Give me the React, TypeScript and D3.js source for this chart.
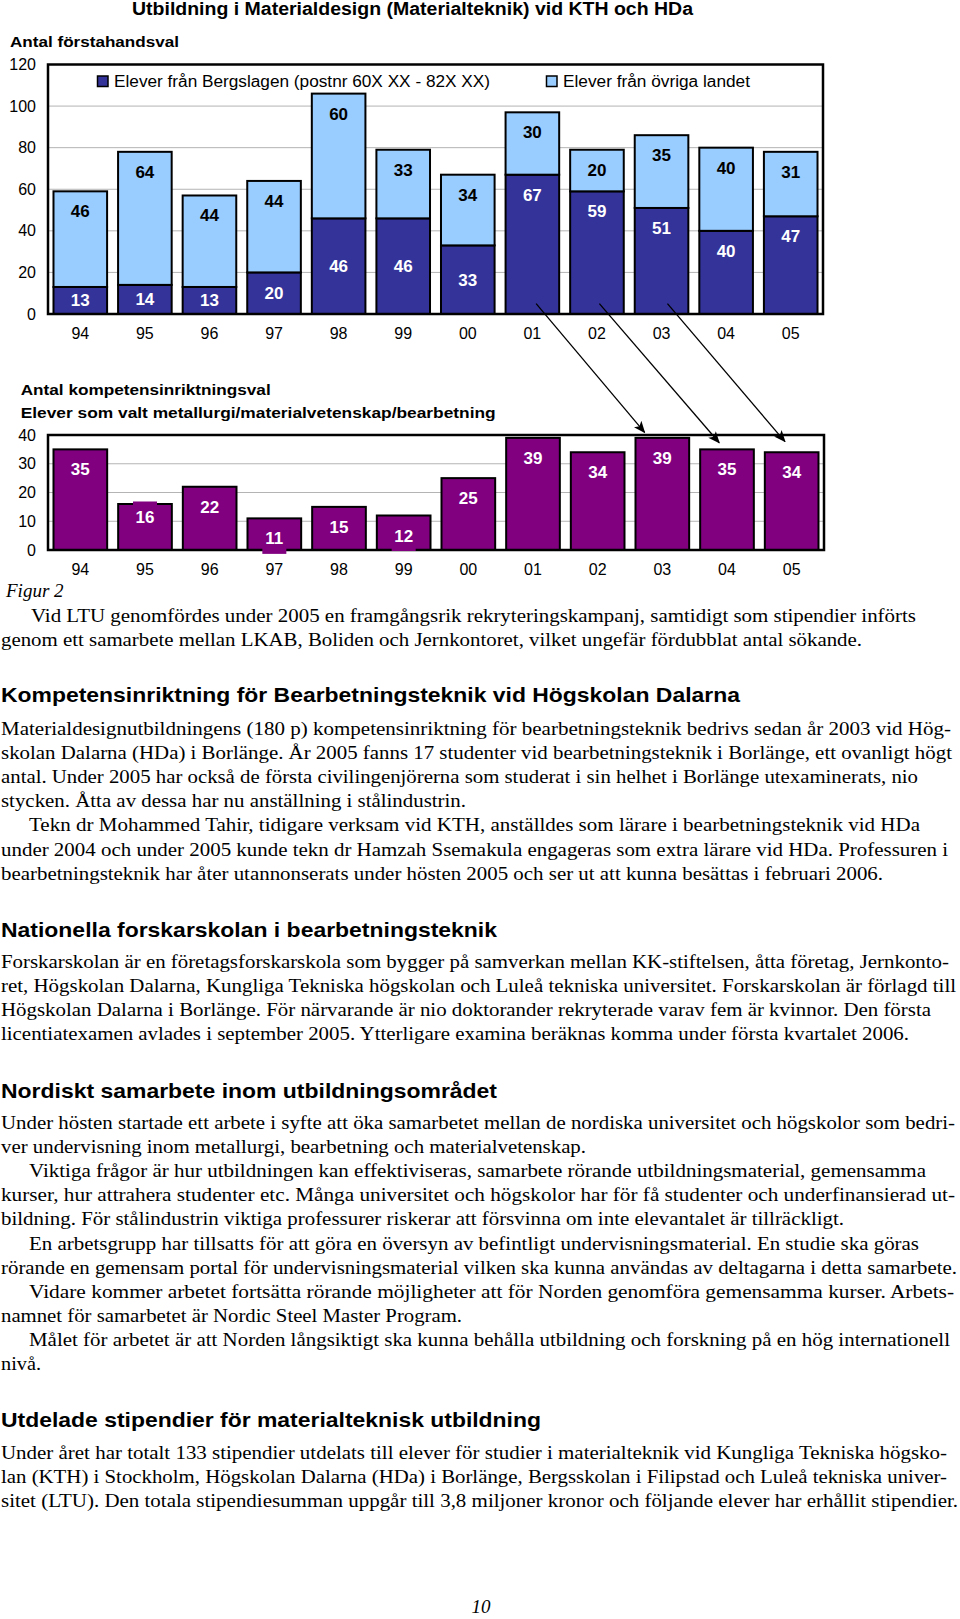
import React from "react";
import * as d3 from "d3";

// ---------- chart data ----------
const years = ["94", "95", "96", "97", "98", "99", "00", "01", "02", "03", "04", "05"];
const bergslagen = [13, 14, 13, 20, 46, 46, 33, 67, 59, 51, 40, 47];
const ovriga = [46, 64, 44, 44, 60, 33, 34, 30, 20, 35, 40, 31];
const kompetens = [35, 16, 22, 11, 15, 12, 25, 39, 34, 39, 35, 34];
const topTicks = [0, 20, 40, 60, 80, 100, 120];
const bottomTicks = [0, 10, 20, 30, 40];
const arrowLinks = [
  { from: "01", to: "03" },
  { from: "02", to: "04" },
  { from: "03", to: "05" },
];

// ---------- text ----------
const chartTitle = "Utbildning i Materialdesign (Materialteknik) vid KTH och HDa";
const topAxisTitle = "Antal förstahandsval";
const legendDark = "Elever från Bergslagen (postnr 60X XX - 82X XX)";
const legendLight = "Elever från övriga landet";
const bottomTitle1 = "Antal kompetensinriktningsval";
const bottomTitle2 = "Elever som valt metallurgi/materialvetenskap/bearbetning";

type Line = { t: string; x: number; end: number };
type Block = { kind: "h" | "p"; y: number; lines: Line[] };

const blocks: Block[] = [
  {
    kind: "p",
    y: 622,
    lines: [
      { t: "Vid LTU genomfördes under 2005 en framgångsrik rekryteringskampanj, samtidigt som stipendier införts", x: 31, end: 916 },
      { t: "genom ett samarbete mellan LKAB, Boliden och Jernkontoret, vilket ungefär fördubblat antal sökande.", x: 1, end: 862 },
    ],
  },
  { kind: "h", y: 702, lines: [{ t: "Kompetensinriktning för Bearbetningsteknik vid Högskolan Dalarna", x: 1, end: 740 }] },
  {
    kind: "p",
    y: 735,
    lines: [
      { t: "Materialdesignutbildningens (180 p) kompetensinriktning för bearbetningsteknik bedrivs sedan år 2003 vid Hög-", x: 1, end: 951 },
      { t: "skolan Dalarna (HDa) i Borlänge. År 2005 fanns 17 studenter vid bearbetningsteknik i Borlänge, ett ovanligt högt", x: 1, end: 952 },
      { t: "antal. Under 2005 har också de första civilingenjörerna som studerat i sin helhet i Borlänge utexaminerats, nio", x: 1, end: 918 },
      { t: "stycken. Åtta av dessa har nu anställning i stålindustrin.", x: 1, end: 466 },
      { t: "Tekn dr Mohammed Tahir, tidigare verksam vid KTH, anställdes som lärare i bearbetningsteknik vid HDa", x: 29, end: 920 },
      { t: "under 2004 och under 2005 kunde tekn dr Hamzah Ssemakula engageras som extra lärare vid HDa. Professuren i", x: 1, end: 948 },
      { t: "bearbetningsteknik har åter utannonserats under hösten 2005 och ser ut att kunna besättas i februari 2006.", x: 1, end: 883 },
    ],
  },
  { kind: "h", y: 936.5, lines: [{ t: "Nationella forskarskolan i bearbetningsteknik", x: 1, end: 497 }] },
  {
    kind: "p",
    y: 968,
    lines: [
      { t: "Forskarskolan är en företagsforskarskola som bygger på samverkan mellan KK-stiftelsen, åtta företag, Jernkonto-", x: 1, end: 949 },
      { t: "ret, Högskolan Dalarna, Kungliga Tekniska högskolan och Luleå tekniska universitet. Forskarskolan är förlagd till", x: 1, end: 956 },
      { t: "Högskolan Dalarna i Borlänge. För närvarande är nio doktorander rekryterade varav fem är kvinnor. Den första", x: 1, end: 931 },
      { t: "licentiatexamen avlades i september 2005. Ytterligare examina beräknas komma under första kvartalet 2006.", x: 1, end: 909 },
    ],
  },
  { kind: "h", y: 1097.5, lines: [{ t: "Nordiskt samarbete inom utbildningsområdet", x: 1, end: 497 }] },
  {
    kind: "p",
    y: 1129,
    lines: [
      { t: "Under hösten startade ett arbete i syfte att öka samarbetet mellan de nordiska universitet och högskolor som bedri-", x: 1, end: 955 },
      { t: "ver undervisning inom metallurgi, bearbetning och materialvetenskap.", x: 1, end: 586 },
      { t: "Viktiga frågor är hur utbildningen kan effektiviseras, samarbete rörande utbildningsmaterial, gemensamma", x: 29, end: 926 },
      { t: "kurser, hur attrahera studenter etc. Många universitet och högskolor har för få studenter och underfinansierad ut-", x: 1, end: 955 },
      { t: "bildning. För stålindustrin viktiga professurer riskerar att försvinna om inte elevantalet är tillräckligt.", x: 1, end: 844 },
      { t: "En arbetsgrupp har tillsatts för att göra en översyn av befintligt undervisningsmaterial. En studie ska göras", x: 29, end: 919 },
      { t: "rörande en gemensam portal för undervisningsmaterial vilken ska kunna användas av deltagarna i detta samarbete.", x: 1, end: 957 },
      { t: "Vidare kommer arbetet fortsätta rörande möjligheter att för Norden genomföra gemensamma kurser. Arbets-", x: 29, end: 954 },
      { t: "namnet för samarbetet är Nordic Steel Master Program.", x: 1, end: 462 },
      { t: "Målet för arbetet är att Norden långsiktigt ska kunna behålla utbildning och forskning på en hög internationell", x: 29, end: 950 },
      { t: "nivå.", x: 1, end: 41 },
    ],
  },
  { kind: "h", y: 1427, lines: [{ t: "Utdelade stipendier för materialteknisk utbildning", x: 1, end: 541 }] },
  {
    kind: "p",
    y: 1458.5,
    lines: [
      { t: "Under året har totalt 133 stipendier utdelats till elever för studier i materialteknik vid Kungliga Tekniska högsko-", x: 1, end: 947 },
      { t: "lan (KTH) i Stockholm, Högskolan Dalarna (HDa) i Borlänge, Bergsskolan i Filipstad och Luleå tekniska univer-", x: 1, end: 947 },
      { t: "sitet (LTU). Den totala stipendiesumman uppgår till 3,8 miljoner kronor och följande elever har erhållit stipendier.", x: 1, end: 958 },
    ],
  },
];

// ---------- styling ----------
const W = 960;
const H = 1619;
const SANS = "'Liberation Sans', Arial, Helvetica, sans-serif";
const SERIF = "'Liberation Serif', 'Times New Roman', serif";
const NAVY = "#333399";
const LIGHT = "#99CCFF";
const PURPLE = "#800080";
const GRID = "#b4b4b4";
const LINE_STEP = 24.1;

export default function App() {
  // Top chart scales
  const xTop = d3.scaleBand<string>().domain(years).range([48, 823]).paddingInner(0.17).paddingOuter(0.085);
  const yTop = d3.scaleLinear().domain([0, 120]).range([314, 64.5]);
  // Bottom chart scales
  const xBot = d3.scaleBand<string>().domain(years).range([48, 824]).paddingInner(0.17).paddingOuter(0.085);
  const yBot = d3.scaleLinear().domain([0, 40]).range([550, 435]);

  const bwT = xTop.bandwidth();
  const bwB = xBot.bandwidth();

  const stack = d3.stack<number>().keys(["b", "o"]).value((i, k) => (k === "b" ? bergslagen[i] : ovriga[i]));
  const series = stack(d3.range(years.length));

  // dark labels are centered up to "00", placed inside end afterwards
  const darkCenteredCount = 7;
  const labelFs = 17;
  const labelOffset = 20; // distance from segment top to label center (inside end)
  const bottomNudge: Record<string, number> = { "95": -7 };

  const arrowGeom = arrowLinks.map((a, i) => {
    const fromFrac = [0.57, 0.545, 0.61][i];
    const toFrac = [0.17, 0.355, 0.375][i];
    const toVal = [40.9, 37.3, 37.7][i];
    return {
      x1: (xTop(a.from) as number) + bwT * fromFrac,
      y1: yTop(5),
      x2: (xBot(a.to) as number) + bwB * toFrac,
      y2: yBot(toVal),
    };
  });

  return (
    <svg
      width={W}
      height={H}
      viewBox={`0 0 ${W} ${H}`}
      style={{ position: "absolute", left: 0, top: 0, background: "#fff" }}
    >
      <defs>
        <marker id="ah" viewBox="0 0 12 10" refX="11" refY="5" markerWidth="12" markerHeight="10" markerUnits="userSpaceOnUse" orient="auto">
          <path d="M0,0 L12,5 L0,10 L3,5 z" fill="#000" />
        </marker>
      </defs>
      <rect x={0} y={0} width={W} height={H} fill="#fff" />

      {/* ===== Top chart ===== */}
      <text x={132} y={15} fontFamily={SANS} fontWeight="bold" fontSize={18} textLength={561} lengthAdjust="spacingAndGlyphs">
        {chartTitle}
      </text>
      <text x={10} y={47} fontFamily={SANS} fontWeight="bold" fontSize={15.5} textLength={169} lengthAdjust="spacingAndGlyphs">
        {topAxisTitle}
      </text>

      {topTicks.filter((t) => t > 0 && t < 120).map((t) => (
        <line key={"gt" + t} x1={48} x2={823} y1={yTop(t)} y2={yTop(t)} stroke={GRID} strokeWidth={1} />
      ))}
      {topTicks.map((t) => (
        <text key={"yt" + t} x={36} y={yTop(t) + 5.5} textAnchor="end" fontFamily={SANS} fontSize={16}>
          {t}
        </text>
      ))}

      {series.map((s) =>
        s.map((d, i) => (
          <rect
            key={s.key + i}
            x={xTop(years[i])}
            y={yTop(d[1])}
            width={bwT}
            height={yTop(d[0]) - yTop(d[1])}
            fill={s.key === "b" ? NAVY : LIGHT}
            stroke="#000"
            strokeWidth={2}
          />
        ))
      )}
      {series.map((s) =>
        s.map((d, i) => {
          const cx = (xTop(years[i]) as number) + bwT / 2;
          const top = yTop(d[1]);
          const bottom = yTop(d[0]);
          const isDark = s.key === "b";
          const cy = isDark && i < darkCenteredCount ? (top + bottom) / 2 : top + labelOffset;
          return (
            <text
              key={"l" + s.key + i}
              x={cx}
              y={cy + 6}
              textAnchor="middle"
              fontFamily={SANS}
              fontWeight="bold"
              fontSize={labelFs}
              fill={isDark ? "#fff" : "#000"}
            >
              {isDark ? bergslagen[i] : ovriga[i]}
            </text>
          );
        })
      )}
      <rect x={48} y={yTop(120)} width={775} height={yTop(0) - yTop(120)} fill="none" stroke="#000" strokeWidth={2.5} />

      {/* legend */}
      <rect x={97.5} y={76} width={10.5} height={10.5} fill={NAVY} stroke="#000" strokeWidth={1.5} />
      <text x={114} y={86.5} fontFamily={SANS} fontSize={16} textLength={376} lengthAdjust="spacingAndGlyphs">
        {legendDark}
      </text>
      <rect x={546.5} y={76} width={10.5} height={10.5} fill={LIGHT} stroke="#000" strokeWidth={1.5} />
      <text x={563} y={86.5} fontFamily={SANS} fontSize={16} textLength={187} lengthAdjust="spacingAndGlyphs">
        {legendLight}
      </text>

      {years.map((y) => (
        <text key={"xt" + y} x={(xTop(y) as number) + bwT / 2} y={339} textAnchor="middle" fontFamily={SANS} fontSize={16}>
          {y}
        </text>
      ))}

      {/* ===== Bottom chart ===== */}
      <text x={20.7} y={394.5} fontFamily={SANS} fontWeight="bold" fontSize={15.5} textLength={250} lengthAdjust="spacingAndGlyphs">
        {bottomTitle1}
      </text>
      <text x={20.7} y={418} fontFamily={SANS} fontWeight="bold" fontSize={15.5} textLength={475} lengthAdjust="spacingAndGlyphs">
        {bottomTitle2}
      </text>

      {bottomTicks.filter((t) => t > 0 && t < 40).map((t) => (
        <line key={"gb" + t} x1={48} x2={824} y1={yBot(t)} y2={yBot(t)} stroke={GRID} strokeWidth={1} />
      ))}
      {bottomTicks.map((t) => (
        <text key={"yb" + t} x={36} y={yBot(t) + 5.5} textAnchor="end" fontFamily={SANS} fontSize={16}>
          {t}
        </text>
      ))}
      {kompetens.map((v, i) => (
        <rect
          key={"kb" + i}
          x={xBot(years[i])}
          y={yBot(v)}
          width={bwB}
          height={yBot(0) - yBot(v)}
          fill={PURPLE}
          stroke="#000"
          strokeWidth={2}
        />
      ))}
      <rect x={48} y={yBot(40)} width={776} height={yBot(0) - yBot(40)} fill="none" stroke="#000" strokeWidth={2.5} />
      {kompetens.map((v, i) => {
        const cx = (xBot(years[i]) as number) + bwB / 2;
        const cy = yBot(v) + labelOffset + (bottomNudge[years[i]] || 0);
        return (
          <g key={"kl" + i}>
            <rect x={cx - 12} y={cy - 15.5} width={24} height={31} fill={PURPLE} />
            <text x={cx} y={cy + 6} textAnchor="middle" fontFamily={SANS} fontWeight="bold" fontSize={labelFs} fill="#fff">
              {v}
            </text>
          </g>
        );
      })}
      {years.map((y) => (
        <text key={"xb" + y} x={(xBot(y) as number) + bwB / 2} y={575} textAnchor="middle" fontFamily={SANS} fontSize={16}>
          {y}
        </text>
      ))}

      {/* arrows */}
      {arrowGeom.map((a, i) => (
        <line key={"ar" + i} x1={a.x1} y1={a.y1} x2={a.x2} y2={a.y2} stroke="#000" strokeWidth={1.3} markerEnd="url(#ah)" />
      ))}

      {/* ===== Body text ===== */}
      <text x={6} y={597} fontFamily={SERIF} fontStyle="italic" fontSize={19}>
        Figur 2
      </text>
      {blocks.map((b, bi) =>
        b.lines.map((l, li) => (
          <text
            key={bi + "-" + li}
            x={l.x}
            y={b.y + li * LINE_STEP}
            fontFamily={b.kind === "h" ? SANS : SERIF}
            fontWeight={b.kind === "h" ? "bold" : "normal"}
            fontSize={b.kind === "h" ? 21 : 19}
            textLength={l.end - l.x}
            lengthAdjust="spacingAndGlyphs"
          >
            {l.t}
          </text>
        ))
      )}
      <text x={481} y={1613} textAnchor="middle" fontFamily={SERIF} fontStyle="italic" fontSize={19}>
        10
      </text>
    </svg>
  );
}
